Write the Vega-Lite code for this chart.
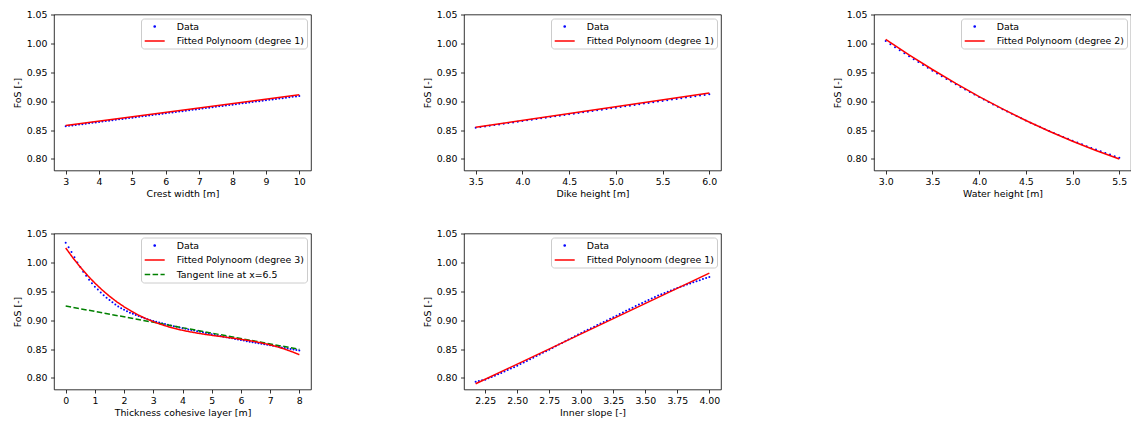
{
"$schema": "https://vega.github.io/schema/vega-lite/v6.json",
"background": "white",
"padding": {"left": 12, "top": 8.5, "right": 0, "bottom": 0},
"autosize": {"type": "pad"},
"config": {
  "font": "DejaVu Sans",
  "view": {"stroke": "black", "strokeWidth": 0.8},
  "axis": {"grid": false, "domain": false, "ticks": true, "tickColor": "black", "tickWidth": 0.8, "tickSize": 3.5, "labelFont": "DejaVu Sans", "labelFontSize": 9.4, "labelColor": "black", "labelPadding": 3.5, "titleFont": "DejaVu Sans", "titleFontSize": 9.4, "titleFontWeight": "normal", "titleColor": "black", "titlePadding": 3.5, "labelFlush": false, "labelOverlap": false},
  "legend": {"orient": "top-right", "offset": 4, "fillColor": "white", "strokeColor": "#cccccc", "cornerRadius": 3, "padding": 3, "labelFont": "DejaVu Sans", "labelFontSize": 9.4, "labelColor": "black", "labelOffset": 17, "symbolOffset": 5.7, "rowPadding": 4.5, "symbolSize": 64, "symbolStrokeWidth": 1.5, "symbolType": "M-2.5,0H2.5", "title": null}
},
"datasets": {
"p1": [{"x":3.0,"y":0.8565},{"x":3.1,"y":0.85725},{"x":3.2,"y":0.858},{"x":3.3,"y":0.85875},{"x":3.4,"y":0.8595},{"x":3.5,"y":0.86025},{"x":3.6,"y":0.861},{"x":3.7,"y":0.86175},{"x":3.8,"y":0.8625},{"x":3.9,"y":0.86325},{"x":4.0,"y":0.864},{"x":4.1,"y":0.86475},{"x":4.2,"y":0.8655},{"x":4.3,"y":0.86625},{"x":4.4,"y":0.867},{"x":4.5,"y":0.86775},{"x":4.6,"y":0.8685},{"x":4.7,"y":0.86925},{"x":4.8,"y":0.87},{"x":4.9,"y":0.87075},{"x":5.0,"y":0.8715},{"x":5.1,"y":0.87225},{"x":5.2,"y":0.873},{"x":5.3,"y":0.87375},{"x":5.4,"y":0.8745},{"x":5.5,"y":0.87525},{"x":5.6,"y":0.876},{"x":5.7,"y":0.87675},{"x":5.8,"y":0.8775},{"x":5.9,"y":0.87825},{"x":6.0,"y":0.879},{"x":6.1,"y":0.87975},{"x":6.2,"y":0.8805},{"x":6.3,"y":0.88125},{"x":6.4,"y":0.882},{"x":6.5,"y":0.88275},{"x":6.6,"y":0.8835},{"x":6.7,"y":0.88425},{"x":6.8,"y":0.885},{"x":6.9,"y":0.88575},{"x":7.0,"y":0.8865},{"x":7.1,"y":0.88725},{"x":7.2,"y":0.888},{"x":7.3,"y":0.88875},{"x":7.4,"y":0.8895},{"x":7.5,"y":0.89025},{"x":7.6,"y":0.891},{"x":7.7,"y":0.89175},{"x":7.8,"y":0.8925},{"x":7.9,"y":0.89325},{"x":8.0,"y":0.894},{"x":8.1,"y":0.89475},{"x":8.2,"y":0.8955},{"x":8.3,"y":0.89625},{"x":8.4,"y":0.897},{"x":8.5,"y":0.89775},{"x":8.6,"y":0.8985},{"x":8.7,"y":0.89925},{"x":8.8,"y":0.9},{"x":8.9,"y":0.90075},{"x":9.0,"y":0.9015},{"x":9.1,"y":0.90225},{"x":9.2,"y":0.903},{"x":9.3,"y":0.90375},{"x":9.4,"y":0.9045},{"x":9.5,"y":0.90525},{"x":9.6,"y":0.906},{"x":9.7,"y":0.90675},{"x":9.8,"y":0.9075},{"x":9.9,"y":0.90825},{"x":10.0,"y":0.909}],
"p1fit": [{"x":3.0,"y":0.858},{"x":10.0,"y":0.911}],
"p2": [{"x":3.5,"y":0.854},{"x":3.55,"y":0.85516},{"x":3.6,"y":0.85632},{"x":3.65,"y":0.85748},{"x":3.7,"y":0.85864},{"x":3.75,"y":0.8598},{"x":3.8,"y":0.86096},{"x":3.85,"y":0.86212},{"x":3.9,"y":0.86328},{"x":3.95,"y":0.86444},{"x":4.0,"y":0.8656},{"x":4.05,"y":0.86676},{"x":4.1,"y":0.86792},{"x":4.15,"y":0.86908},{"x":4.2,"y":0.87024},{"x":4.25,"y":0.8714},{"x":4.3,"y":0.87256},{"x":4.35,"y":0.87372},{"x":4.4,"y":0.87488},{"x":4.45,"y":0.87604},{"x":4.5,"y":0.8772},{"x":4.55,"y":0.87836},{"x":4.6,"y":0.87952},{"x":4.65,"y":0.88068},{"x":4.7,"y":0.88184},{"x":4.75,"y":0.883},{"x":4.8,"y":0.88416},{"x":4.85,"y":0.88532},{"x":4.9,"y":0.88648},{"x":4.95,"y":0.88764},{"x":5.0,"y":0.8888},{"x":5.05,"y":0.88996},{"x":5.1,"y":0.89112},{"x":5.15,"y":0.89228},{"x":5.2,"y":0.89344},{"x":5.25,"y":0.8946},{"x":5.3,"y":0.89576},{"x":5.35,"y":0.89692},{"x":5.4,"y":0.89808},{"x":5.45,"y":0.89924},{"x":5.5,"y":0.9004},{"x":5.55,"y":0.90156},{"x":5.6,"y":0.90272},{"x":5.65,"y":0.90388},{"x":5.7,"y":0.90504},{"x":5.75,"y":0.9062},{"x":5.8,"y":0.90736},{"x":5.85,"y":0.90852},{"x":5.9,"y":0.90968},{"x":5.95,"y":0.91084},{"x":6.0,"y":0.912}],
"p2fit": [{"x":3.5,"y":0.855},{"x":6.0,"y":0.914}],
"p3": [{"x":3.0,"y":1.004},{"x":3.05,"y":0.99864},{"x":3.1,"y":0.99333},{"x":3.15,"y":0.98807},{"x":3.2,"y":0.98287},{"x":3.25,"y":0.97773},{"x":3.3,"y":0.97263},{"x":3.35,"y":0.96759},{"x":3.4,"y":0.96261},{"x":3.45,"y":0.95768},{"x":3.5,"y":0.9528},{"x":3.55,"y":0.94798},{"x":3.6,"y":0.94321},{"x":3.65,"y":0.93849},{"x":3.7,"y":0.93383},{"x":3.75,"y":0.92923},{"x":3.8,"y":0.92467},{"x":3.85,"y":0.92017},{"x":3.9,"y":0.91573},{"x":3.95,"y":0.91134},{"x":4.0,"y":0.907},{"x":4.05,"y":0.90272},{"x":4.1,"y":0.89849},{"x":4.15,"y":0.89431},{"x":4.2,"y":0.89019},{"x":4.25,"y":0.88613},{"x":4.3,"y":0.88211},{"x":4.35,"y":0.87815},{"x":4.4,"y":0.87425},{"x":4.45,"y":0.8704},{"x":4.5,"y":0.8666},{"x":4.55,"y":0.86286},{"x":4.6,"y":0.85917},{"x":4.65,"y":0.85553},{"x":4.7,"y":0.85195},{"x":4.75,"y":0.84843},{"x":4.8,"y":0.84495},{"x":4.85,"y":0.84153},{"x":4.9,"y":0.83817},{"x":4.95,"y":0.83486},{"x":5.0,"y":0.8316},{"x":5.05,"y":0.8284},{"x":5.1,"y":0.82525},{"x":5.15,"y":0.82215},{"x":5.2,"y":0.81911},{"x":5.25,"y":0.81613},{"x":5.3,"y":0.81319},{"x":5.35,"y":0.81031},{"x":5.4,"y":0.80749},{"x":5.45,"y":0.80472},{"x":5.5,"y":0.802}],
"p3fit": [{"x":3.0,"y":1.007},{"x":3.25,"y":0.98023},{"x":3.5,"y":0.9548},{"x":3.75,"y":0.93073},{"x":4.0,"y":0.908},{"x":4.25,"y":0.88663},{"x":4.5,"y":0.8666},{"x":4.75,"y":0.84793},{"x":5.0,"y":0.8306},{"x":5.25,"y":0.81463},{"x":5.5,"y":0.8}],
"p4": [{"x":0.0,"y":1.034},{"x":0.1,"y":1.026},{"x":0.2,"y":1.018},{"x":0.3,"y":1.009},{"x":0.4,"y":1.0},{"x":0.5,"y":0.992},{"x":0.6,"y":0.984},{"x":0.7,"y":0.977},{"x":0.8,"y":0.97},{"x":0.9,"y":0.964},{"x":1.0,"y":0.958},{"x":1.1,"y":0.953},{"x":1.2,"y":0.948},{"x":1.3,"y":0.943},{"x":1.4,"y":0.939},{"x":1.5,"y":0.935},{"x":1.6,"y":0.931},{"x":1.7,"y":0.927},{"x":1.8,"y":0.9235},{"x":1.9,"y":0.9205},{"x":2.0,"y":0.918},{"x":2.1,"y":0.9155},{"x":2.2,"y":0.913},{"x":2.3,"y":0.911},{"x":2.4,"y":0.909},{"x":2.5,"y":0.907},{"x":2.6,"y":0.905},{"x":2.7,"y":0.9032},{"x":2.8,"y":0.9016},{"x":2.9,"y":0.9},{"x":3.0,"y":0.8985},{"x":3.1,"y":0.8972},{"x":3.2,"y":0.8959},{"x":3.3,"y":0.8946},{"x":3.4,"y":0.8933},{"x":3.5,"y":0.892},{"x":3.6,"y":0.8908},{"x":3.7,"y":0.8896},{"x":3.8,"y":0.8884},{"x":3.9,"y":0.8872},{"x":4.0,"y":0.886},{"x":4.1,"y":0.885},{"x":4.2,"y":0.884},{"x":4.3,"y":0.883},{"x":4.4,"y":0.882},{"x":4.5,"y":0.881},{"x":4.6,"y":0.88},{"x":4.7,"y":0.879},{"x":4.8,"y":0.8776},{"x":4.9,"y":0.8766},{"x":5.0,"y":0.8755},{"x":5.1,"y":0.8745},{"x":5.2,"y":0.8735},{"x":5.3,"y":0.8725},{"x":5.4,"y":0.8715},{"x":5.5,"y":0.8705},{"x":5.6,"y":0.8695},{"x":5.7,"y":0.8685},{"x":5.8,"y":0.8675},{"x":5.9,"y":0.8665},{"x":6.0,"y":0.8655},{"x":6.1,"y":0.8646},{"x":6.2,"y":0.8637},{"x":6.3,"y":0.8628},{"x":6.4,"y":0.8619},{"x":6.5,"y":0.861},{"x":6.6,"y":0.8601},{"x":6.7,"y":0.8592},{"x":6.8,"y":0.8583},{"x":6.9,"y":0.8574},{"x":7.0,"y":0.8565},{"x":7.1,"y":0.8556},{"x":7.2,"y":0.8547},{"x":7.3,"y":0.8538},{"x":7.4,"y":0.8529},{"x":7.5,"y":0.852},{"x":7.6,"y":0.8511},{"x":7.7,"y":0.8502},{"x":7.8,"y":0.8493},{"x":7.9,"y":0.8484},{"x":8.0,"y":0.8475}],
"p4lines": [{"s":"Tangent line at x=6.5","x":0.0,"y":0.9245},{"s":"Tangent line at x=6.5","x":8.0,"y":0.8495},{"s":"Fitted Polynoom (degree 3)","x":0.0,"y":1.025},{"s":"Fitted Polynoom (degree 3)","x":0.25,"y":1.00768},{"s":"Fitted Polynoom (degree 3)","x":0.5,"y":0.99182},{"s":"Fitted Polynoom (degree 3)","x":0.75,"y":0.97733},{"s":"Fitted Polynoom (degree 3)","x":1.0,"y":0.96416},{"s":"Fitted Polynoom (degree 3)","x":1.25,"y":0.95222},{"s":"Fitted Polynoom (degree 3)","x":1.5,"y":0.94145},{"s":"Fitted Polynoom (degree 3)","x":1.75,"y":0.93178},{"s":"Fitted Polynoom (degree 3)","x":2.0,"y":0.92313},{"s":"Fitted Polynoom (degree 3)","x":2.25,"y":0.91544},{"s":"Fitted Polynoom (degree 3)","x":2.5,"y":0.90864},{"s":"Fitted Polynoom (degree 3)","x":2.75,"y":0.90265},{"s":"Fitted Polynoom (degree 3)","x":3.0,"y":0.89741},{"s":"Fitted Polynoom (degree 3)","x":3.25,"y":0.89284},{"s":"Fitted Polynoom (degree 3)","x":3.5,"y":0.88888},{"s":"Fitted Polynoom (degree 3)","x":3.75,"y":0.88544},{"s":"Fitted Polynoom (degree 3)","x":4.0,"y":0.88247},{"s":"Fitted Polynoom (degree 3)","x":4.25,"y":0.87989},{"s":"Fitted Polynoom (degree 3)","x":4.5,"y":0.87763},{"s":"Fitted Polynoom (degree 3)","x":4.75,"y":0.87563},{"s":"Fitted Polynoom (degree 3)","x":5.0,"y":0.8738},{"s":"Fitted Polynoom (degree 3)","x":5.25,"y":0.87209},{"s":"Fitted Polynoom (degree 3)","x":5.5,"y":0.8704},{"s":"Fitted Polynoom (degree 3)","x":5.75,"y":0.86869},{"s":"Fitted Polynoom (degree 3)","x":6.0,"y":0.86687},{"s":"Fitted Polynoom (degree 3)","x":6.25,"y":0.86489},{"s":"Fitted Polynoom (degree 3)","x":6.5,"y":0.86265},{"s":"Fitted Polynoom (degree 3)","x":6.75,"y":0.86011},{"s":"Fitted Polynoom (degree 3)","x":7.0,"y":0.85718},{"s":"Fitted Polynoom (degree 3)","x":7.25,"y":0.8538},{"s":"Fitted Polynoom (degree 3)","x":7.5,"y":0.84988},{"s":"Fitted Polynoom (degree 3)","x":7.75,"y":0.84537},{"s":"Fitted Polynoom (degree 3)","x":8.0,"y":0.8402}],
"p5": [{"x":2.175,"y":0.7935},{"x":2.2,"y":0.7947},{"x":2.225,"y":0.7958},{"x":2.25,"y":0.797},{"x":2.275,"y":0.7993},{"x":2.3,"y":0.8016},{"x":2.325,"y":0.8039},{"x":2.35,"y":0.8062},{"x":2.375,"y":0.8085},{"x":2.4,"y":0.8111},{"x":2.425,"y":0.8136},{"x":2.45,"y":0.8162},{"x":2.475,"y":0.8187},{"x":2.5,"y":0.8213},{"x":2.525,"y":0.824},{"x":2.55,"y":0.8268},{"x":2.575,"y":0.8295},{"x":2.6,"y":0.8323},{"x":2.625,"y":0.835},{"x":2.65,"y":0.8378},{"x":2.675,"y":0.8406},{"x":2.7,"y":0.8434},{"x":2.725,"y":0.8462},{"x":2.75,"y":0.849},{"x":2.775,"y":0.8519},{"x":2.8,"y":0.8548},{"x":2.825,"y":0.8577},{"x":2.85,"y":0.8606},{"x":2.875,"y":0.8635},{"x":2.9,"y":0.8664},{"x":2.925,"y":0.8693},{"x":2.95,"y":0.8722},{"x":2.975,"y":0.8751},{"x":3.0,"y":0.878},{"x":3.025,"y":0.8807},{"x":3.05,"y":0.8834},{"x":3.075,"y":0.8861},{"x":3.1,"y":0.8888},{"x":3.125,"y":0.8915},{"x":3.15,"y":0.8942},{"x":3.175,"y":0.8969},{"x":3.2,"y":0.8996},{"x":3.225,"y":0.9023},{"x":3.25,"y":0.905},{"x":3.275,"y":0.9078},{"x":3.3,"y":0.9106},{"x":3.325,"y":0.9134},{"x":3.35,"y":0.9162},{"x":3.375,"y":0.919},{"x":3.4,"y":0.9217},{"x":3.425,"y":0.9244},{"x":3.45,"y":0.9271},{"x":3.475,"y":0.9298},{"x":3.5,"y":0.9325},{"x":3.525,"y":0.935},{"x":3.55,"y":0.9375},{"x":3.575,"y":0.94},{"x":3.6,"y":0.9425},{"x":3.625,"y":0.945},{"x":3.65,"y":0.9472},{"x":3.675,"y":0.9493},{"x":3.7,"y":0.9515},{"x":3.725,"y":0.9536},{"x":3.75,"y":0.9558},{"x":3.775,"y":0.9577},{"x":3.8,"y":0.9597},{"x":3.825,"y":0.9616},{"x":3.85,"y":0.9636},{"x":3.875,"y":0.9655},{"x":3.9,"y":0.9674},{"x":3.925,"y":0.9692},{"x":3.95,"y":0.9711},{"x":3.975,"y":0.9729},{"x":4.0,"y":0.9748}],
"p5fit": [{"x":2.175,"y":0.7899},{"x":4.0,"y":0.9815}]
},
"columns": 3,
"spacing": {"row": 63, "column": 153},
"bounds": "flush",
"resolve": {"scale": {"color": "independent", "x": "independent", "y": "independent"}, "legend": {"color": "independent"}},
"concat": [
{
 "width": 257, "height": 156,
 "encoding": {
   "x": {"field": "x", "type": "quantitative", "scale": {"domain": [2.65, 10.35], "nice": false, "zero": false}, "axis": {"values": [3,4,5,6,7,8,9,10], "format": "d", "title": "Crest width [m]"}},
   "y": {"field": "y", "type": "quantitative", "scale": {"domain": [0.78, 1.05], "nice": false, "zero": false}, "axis": {"values": [0.8,0.85,0.9,0.95,1.0,1.05], "format": ".2f", "title": "FoS [-]"}}
 },
 "layer": [
  {"data": {"name": "p1"}, "mark": {"type": "point", "filled": true, "size": 4, "opacity": 1, "color": "#0000ff"}, "encoding": {}},
  {"data": {"name": "p1fit"}, "mark": {"type": "line", "strokeWidth": 1.5}, "encoding": {"color": {"datum": "Fitted Polynoom (degree 1)", "scale": {"domain": ["Data", "Fitted Polynoom (degree 1)"], "range": ["#0000ff", "#ff0000"]}, "legend": {"encode": {"symbols": {"update": {"shape": {"signal": "datum.value === 'Data' ? 'M-0.15,0A0.15,0.15 0 1,1 0.15,0A0.15,0.15 0 1,1 -0.15,0Z' : 'M-2.5,0H2.5'"}, "fill": {"signal": "datum.value === 'Data' ? '#0000ff' : 'transparent'"}}}}}}}}
 ]
},
{
 "width": 257, "height": 156,
 "encoding": {
   "x": {"field": "x", "type": "quantitative", "scale": {"domain": [3.375, 6.125], "nice": false, "zero": false}, "axis": {"values": [3.5,4.0,4.5,5.0,5.5,6.0], "format": ".1f", "title": "Dike height [m]"}},
   "y": {"field": "y", "type": "quantitative", "scale": {"domain": [0.78, 1.05], "nice": false, "zero": false}, "axis": {"values": [0.8,0.85,0.9,0.95,1.0,1.05], "format": ".2f", "title": "FoS [-]"}}
 },
 "layer": [
  {"data": {"name": "p2"}, "mark": {"type": "point", "filled": true, "size": 4, "opacity": 1, "color": "#0000ff"}, "encoding": {}},
  {"data": {"name": "p2fit"}, "mark": {"type": "line", "strokeWidth": 1.5}, "encoding": {"color": {"datum": "Fitted Polynoom (degree 1)", "scale": {"domain": ["Data", "Fitted Polynoom (degree 1)"], "range": ["#0000ff", "#ff0000"]}, "legend": {"encode": {"symbols": {"update": {"shape": {"signal": "datum.value === 'Data' ? 'M-0.15,0A0.15,0.15 0 1,1 0.15,0A0.15,0.15 0 1,1 -0.15,0Z' : 'M-2.5,0H2.5'"}, "fill": {"signal": "datum.value === 'Data' ? '#0000ff' : 'transparent'"}}}}}}}}
 ]
},
{
 "width": 257, "height": 156,
 "encoding": {
   "x": {"field": "x", "type": "quantitative", "scale": {"domain": [2.875, 5.625], "nice": false, "zero": false}, "axis": {"values": [3.0,3.5,4.0,4.5,5.0,5.5], "format": ".1f", "title": "Water height [m]"}},
   "y": {"field": "y", "type": "quantitative", "scale": {"domain": [0.78, 1.05], "nice": false, "zero": false}, "axis": {"values": [0.8,0.85,0.9,0.95,1.0,1.05], "format": ".2f", "title": "FoS [-]"}}
 },
 "layer": [
  {"data": {"name": "p3"}, "mark": {"type": "point", "filled": true, "size": 4, "opacity": 1, "color": "#0000ff"}, "encoding": {}},
  {"data": {"name": "p3fit"}, "mark": {"type": "line", "strokeWidth": 1.5}, "encoding": {"color": {"datum": "Fitted Polynoom (degree 2)", "scale": {"domain": ["Data", "Fitted Polynoom (degree 2)"], "range": ["#0000ff", "#ff0000"]}, "legend": {"encode": {"symbols": {"update": {"shape": {"signal": "datum.value === 'Data' ? 'M-0.15,0A0.15,0.15 0 1,1 0.15,0A0.15,0.15 0 1,1 -0.15,0Z' : 'M-2.5,0H2.5'"}, "fill": {"signal": "datum.value === 'Data' ? '#0000ff' : 'transparent'"}}}}}}}}
 ]
},
{
 "width": 257, "height": 156,
 "encoding": {
   "x": {"field": "x", "type": "quantitative", "scale": {"domain": [-0.4, 8.4], "nice": false, "zero": false}, "axis": {"values": [0,1,2,3,4,5,6,7,8], "format": "d", "title": "Thickness cohesive layer [m]"}},
   "y": {"field": "y", "type": "quantitative", "scale": {"domain": [0.78, 1.05], "nice": false, "zero": false}, "axis": {"values": [0.8,0.85,0.9,0.95,1.0,1.05], "format": ".2f", "title": "FoS [-]"}}
 },
 "layer": [
  {"data": {"name": "p4"}, "mark": {"type": "point", "filled": true, "size": 4, "opacity": 1, "color": "#0000ff"}, "encoding": {}},
  {"data": {"name": "p4lines"}, "mark": {"type": "line", "strokeWidth": 1.5}, "encoding": {
    "detail": {"field": "s"},
    "strokeDash": {"field": "s", "type": "nominal", "scale": {"domain": ["Fitted Polynoom (degree 3)", "Tangent line at x=6.5"], "range": [[1, 0], [5.5, 2.4]]}, "legend": null},
    "color": {"field": "s", "type": "nominal", "scale": {"domain": ["Data", "Fitted Polynoom (degree 3)", "Tangent line at x=6.5"], "range": ["#0000ff", "#ff0000", "#008000"]}, "legend": {"encode": {"symbols": {"update": {"shape": {"signal": "datum.value === 'Data' ? 'M-0.15,0A0.15,0.15 0 1,1 0.15,0A0.15,0.15 0 1,1 -0.15,0Z' : 'M-2.5,0H2.5'"}, "fill": {"signal": "datum.value === 'Data' ? '#0000ff' : 'transparent'"}, "strokeDash": {"signal": "datum.value === 'Tangent line at x=6.5' ? [5.5, 2.4] : [1, 0]"}}}}}}}}
 ]
},
{
 "width": 257, "height": 156,
 "encoding": {
   "x": {"field": "x", "type": "quantitative", "scale": {"domain": [2.084, 4.091], "nice": false, "zero": false}, "axis": {"values": [2.25,2.5,2.75,3.0,3.25,3.5,3.75,4.0], "format": ".2f", "title": "Inner slope [-]"}},
   "y": {"field": "y", "type": "quantitative", "scale": {"domain": [0.78, 1.05], "nice": false, "zero": false}, "axis": {"values": [0.8,0.85,0.9,0.95,1.0,1.05], "format": ".2f", "title": "FoS [-]"}}
 },
 "layer": [
  {"data": {"name": "p5"}, "mark": {"type": "point", "filled": true, "size": 4, "opacity": 1, "color": "#0000ff"}, "encoding": {}},
  {"data": {"name": "p5fit"}, "mark": {"type": "line", "strokeWidth": 1.5}, "encoding": {"color": {"datum": "Fitted Polynoom (degree 1)", "scale": {"domain": ["Data", "Fitted Polynoom (degree 1)"], "range": ["#0000ff", "#ff0000"]}, "legend": {"encode": {"symbols": {"update": {"shape": {"signal": "datum.value === 'Data' ? 'M-0.15,0A0.15,0.15 0 1,1 0.15,0A0.15,0.15 0 1,1 -0.15,0Z' : 'M-2.5,0H2.5'"}, "fill": {"signal": "datum.value === 'Data' ? '#0000ff' : 'transparent'"}}}}}}}}
 ]
}
]
}
